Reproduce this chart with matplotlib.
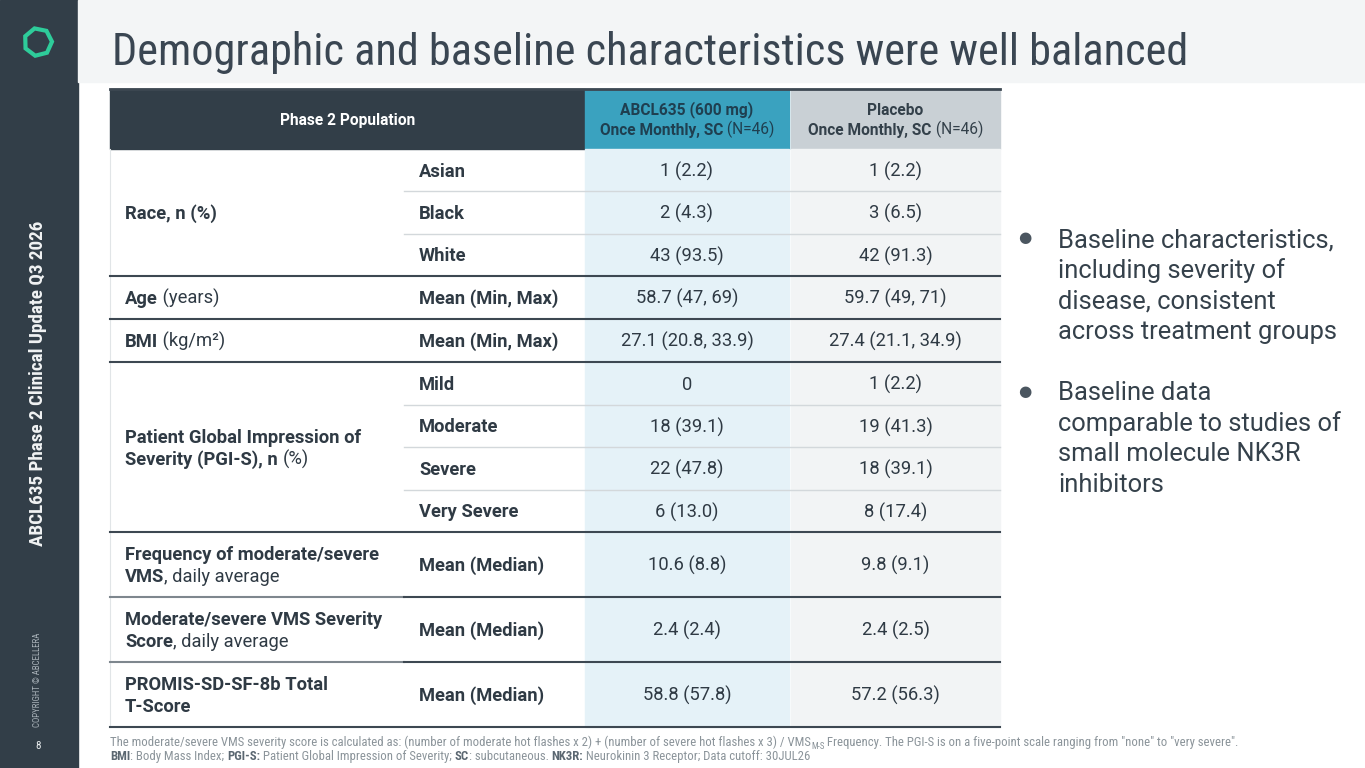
import matplotlib
matplotlib.use("Agg")
import matplotlib.pyplot as plt
from matplotlib import font_manager
from matplotlib.patches import Rectangle, RegularPolygon

# ---- data ----
title = "Demographic and baseline characteristics were well balanced"
side_title = "ABCL635 Phase 2 Clinical Update Q3 2026"
page_no = "8"

header_pop = "Phase 2 Population"
header_abcl = [[("ABCL635 (600 mg)", True)], [("Once Monthly, SC", True), (" (N=46)", False)]]
header_pbo = [[("Placebo", True)], [("Once Monthly, SC", True), (" (N=46)", False)]]

group_labels = [
    [[("Race, n (%)", True)]],
    [[("Age", True), (" (years)", False)]],
    [[("BMI", True), (" (kg/m²)", False)]],
    [[("Patient Global Impression of", True)], [("Severity (PGI-S), n ", True), ("(%)", False)]],
    [[("Frequency of moderate/severe", True)], [("VMS", True), (", daily average", False)]],
    [[("Moderate/severe VMS Severity", True)], [("Score", True), (", daily average", False)]],
    [[("PROMIS-SD-SF-8b Total", True)], [("T-Score", True)]],
]
group_sizes = [3, 1, 1, 4, 1, 1, 1]

row_labels = ["Asian", "Black", "White", "Mean (Min, Max)", "Mean (Min, Max)",
              "Mild", "Moderate", "Severe", "Very Severe",
              "Mean (Median)", "Mean (Median)", "Mean (Median)"]
abcl_values = ["1 (2.2)", "2 (4.3)", "43 (93.5)", "58.7 (47, 69)", "27.1 (20.8, 33.9)",
               "0", "18 (39.1)", "22 (47.8)", "6 (13.0)",
               "10.6 (8.8)", "2.4 (2.4)", "58.8 (57.8)"]
placebo_values = ["1 (2.2)", "3 (6.5)", "42 (91.3)", "59.7 (49, 71)", "27.4 (21.1, 34.9)",
                  "1 (2.2)", "19 (41.3)", "18 (39.1)", "8 (17.4)",
                  "9.8 (9.1)", "2.4 (2.5)", "57.2 (56.3)"]
row_heights = [42.3, 42.3, 42.4, 43, 43, 42.5, 42.5, 42.5, 42.5, 65, 65, 65]

bullets = [
    ["Baseline characteristics,", "including severity of", "disease, consistent", "across treatment groups"],
    ["Baseline data", "comparable to studies of", "small molecule NK3R", "inhibitors"],
]

foot1 = [("The moderate/severe VMS severity score is calculated as: (number of moderate hot flashes x 2) + "
          "(number of severe hot flashes x 3) / VMS", "r"), ("M-S", "sub"),
         (" Frequency. The PGI-S is on a five-point scale ranging from \"none\" to \"very severe\".", "r")]
foot2 = [("BMI", "b"), (": Body Mass Index; ", "r"), ("PGI-S:", "b"),
         (" Patient Global Impression of Severity; ", "r"), ("SC", "b"), (": subcutaneous. ", "r"),
         ("NK3R:", "b"), (" Neurokinin 3 Receptor; Data cutoff: 30JUL26", "r")]

# ---- colours ----
DARK = "#323e48"
TEXT = "#2f3a44"
TEAL = "#3aa2bf"
PBO_HEAD = "#c9d0d5"
ABCL_BG = "#e5f2f8"
PBO_BG = "#f2f4f5"

W, H = 1365, 768
fig = plt.figure(figsize=(W / 100, H / 100), dpi=100)
ax = fig.add_axes([0, 0, 1, 1])
ax.set_xlim(0, W)
ax.set_ylim(H, 0)
ax.axis("off")
renderer = fig.canvas.get_renderer()


def pick(*names):
    for n in names:
        try:
            font_manager.findfont(font_manager.FontProperties(family=n), fallback_to_default=False)
            return n
        except ValueError:
            pass
    return "DejaVu Sans"


BODY = pick("Roboto", "Noto Sans")
COND = pick("Roboto Condensed", "Liberation Sans Narrow", "Roboto")


def width(t):
    return t.get_window_extent(renderer).width


def runs(x, y, parts, size, ha="left", color=TEXT, bcolor=None, family=BODY):
    # draws text pieces of mixed weight one after another on the same baseline
    texts = []
    for s, st in parts:
        if st is True or st == "b":
            t = ax.text(0, y, s, fontsize=size, fontweight="bold", color=bcolor or color,
                        family=family, va="baseline")
        elif st == "sub":
            t = ax.text(0, y + size * 0.35, s, fontsize=size * 0.7, color=color,
                        family=family, va="baseline")
        else:
            t = ax.text(0, y, s, fontsize=size, color=color, family=family, va="baseline")
        texts.append(t)
    ws = [width(t) for t in texts]
    x0 = x - sum(ws) / 2 if ha == "center" else x
    for t, w in zip(texts, ws):
        t.set_x(x0)
        x0 += w
    return texts, sum(ws)


def fit_text(x, y, s, target, size, **kw):
    t = ax.text(x, y, s, fontsize=size, **kw)
    t.set_fontsize(size * target / width(t))
    return t


def base(yc, size):
    # baseline for a line whose cap height is centred on yc
    return yc + 0.355 * size * 100 / 72


# ---- background ----
ax.add_patch(Rectangle((0, 0), 78, H, color=DARK, zorder=0))
ax.add_patch(Rectangle((78, 0), W - 78, 82, color="#f3f5f6", zorder=0))
ax.add_patch(RegularPolygon((38, 42), numVertices=7, radius=14, orientation=0.2,
                            fill=False, ec="#2ecc9a", lw=3, zorder=2))

fit_text(112, 65, title, 1078, 32, family=COND, color="#3a4652", va="baseline")

st = fit_text(0, 0, side_title, 325, 13, family=COND, fontweight="bold", color="#f1f3f4")
st.set_position((38, 383))
st.set_rotation(90)
st.set_ha("center")
st.set_va("center")
cp = fit_text(0, 0, "COPYRIGHT © ABCELLERA", 95, 7, family=COND, color="#a9b2b9")
cp.set_position((38, 680))
cp.set_rotation(90)
cp.set_ha("center")
cp.set_va("center")
ax.text(38, 746, page_no, fontsize=8, family=COND, color="#e8ecee", ha="center", va="center")

# ---- table ----
x0, x1, x2, x3, x4 = 110, 404, 585, 789, 1000
top, head_h = 89, 60
y_head_bot = top + head_h

ax.add_patch(Rectangle((x0, top), x2 - x0, head_h, color=DARK, zorder=1))
ax.add_patch(Rectangle((x2, top), x3 - x2, head_h, color=TEAL, zorder=1))
ax.add_patch(Rectangle((x3 + 1.5, top), x4 - x3 - 1.5, head_h, color=PBO_HEAD, zorder=1))
ax.plot([x0, x4], [top, top], color="#3d4852", lw=2, zorder=3)

HS = 11.2
ax.text((x0 + x2) / 2, base(top + head_h / 2, HS), header_pop, fontsize=HS, fontweight="bold",
        color="white", family=BODY, ha="center", va="baseline")
for cx, lines, col in [((x2 + x3) / 2, header_abcl, "#1f3f50"), ((x3 + x4) / 2 + 1, header_pbo, "#33404a")]:
    for i, parts in enumerate(lines):
        runs(cx, base(top + 20 + i * 20, HS), parts, HS, ha="center", color=col)

table_bottom = y_head_bot + sum(row_heights)
ax.add_patch(Rectangle((x2, y_head_bot), x3 - x2, table_bottom - y_head_bot, color=ABCL_BG, zorder=1))
ax.add_patch(Rectangle((x3 + 1.5, y_head_bot), x4 - x3 - 1.5, table_bottom - y_head_bot, color=PBO_BG, zorder=1))
ax.plot([x0, x0], [y_head_bot, table_bottom], color="#e1e5e7", lw=0.8, zorder=2)

TS = 13.2
soft_left = [4, 5]  # group bottoms whose rule is lighter under the label column
y = y_head_bot
r = 0
for g, (lines, n) in enumerate(zip(group_labels, group_sizes)):
    g_top = y
    for k in range(n):
        h = row_heights[r]
        yc = y + h / 2
        ax.text(x1 + 15, base(yc, TS), row_labels[r], fontsize=TS, fontweight="bold", color=TEXT,
                family=BODY, va="baseline")
        ax.text((x2 + x3) / 2, base(yc, TS), abcl_values[r], fontsize=TS, color=TEXT,
                family=BODY, ha="center", va="baseline")
        ax.text((x3 + x4) / 2 + 1, base(yc, TS), placebo_values[r], fontsize=TS, color=TEXT,
                family=BODY, ha="center", va="baseline")
        y += h
        r += 1
        if k < n - 1:
            ax.plot([x1, x4], [y, y], color="#d3d8db", lw=1, zorder=2)
    gc = (g_top + y) / 2
    nl = len(lines)
    for i, parts in enumerate(lines):
        runs(x0 + 15, base(gc + (i - (nl - 1) / 2) * 22, TS), parts, TS)
    if g in soft_left:
        ax.plot([x0, x1], [y, y], color="#7e878e", lw=1.5, zorder=3)
        ax.plot([x1, x4], [y, y], color="#3d4852", lw=1.5, zorder=3)
    else:
        ax.plot([x0, x4], [y, y], color="#3d4852", lw=1.5, zorder=3)

# ---- bullets ----
BS = 18.4
for b, lines in enumerate(bullets):
    y_first = 238 + b * 153
    ax.text(1025, y_first, "●", fontsize=11, color="#4b5660", family="DejaVu Sans",
            ha="center", va="center")
    for i, line in enumerate(lines):
        ax.text(1058, base(y_first + i * 30.5, BS), line, fontsize=BS, color="#35414b",
                family=BODY, va="baseline")

# ---- footnote ----
FS = 7.5
texts, total = runs(x0, 746, foot1, FS, color="#8b949a", family=COND)
scale = 1123 / total
for t in texts:
    t.remove()
runs(x0, 746, foot1, FS * scale, color="#8b949a", family=COND)
runs(x0, 760, foot2, FS * scale, color="#8b949a", bcolor="#5b6771", family=COND)

fig.savefig("out.png", dpi=100)
